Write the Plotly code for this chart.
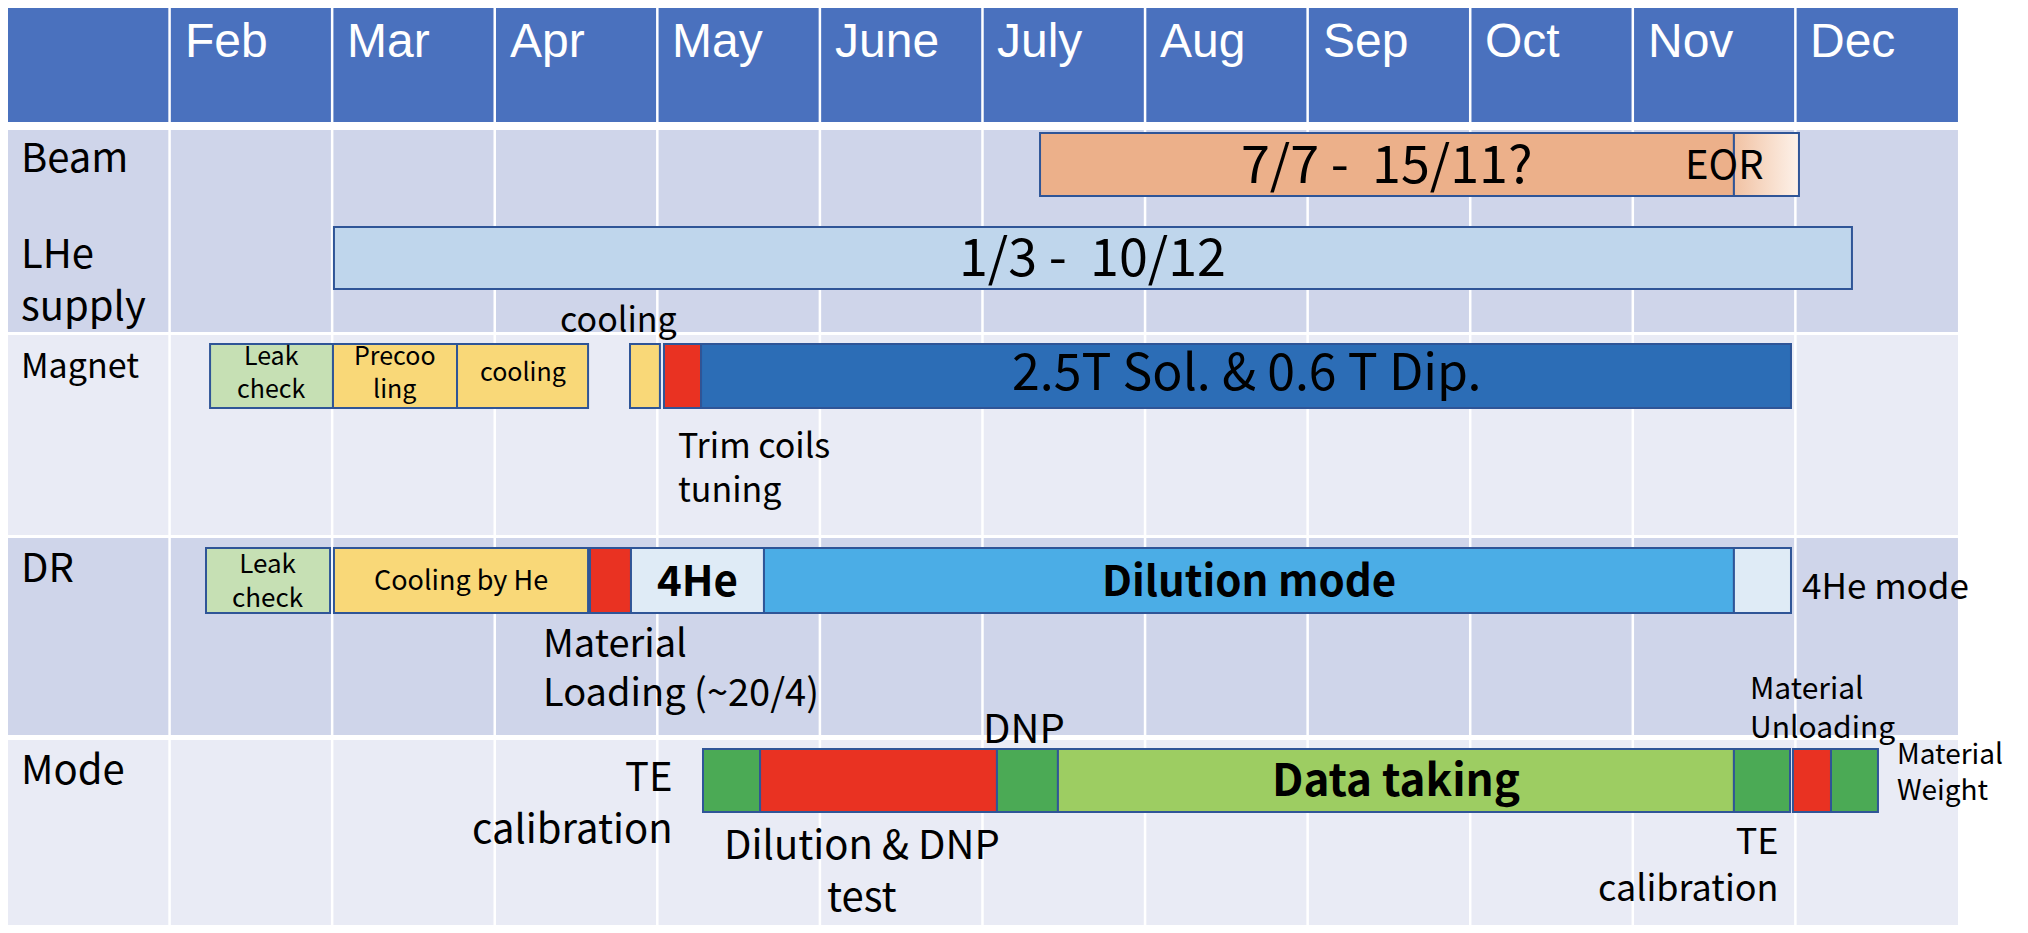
import plotly.graph_objects as go

# ---------------- data ----------------
months = ["Feb", "Mar", "Apr", "May", "June", "July", "Aug", "Sep", "Oct", "Nov", "Dec"]
lanes = ["Beam", "LHe", "Magnet", "DR", "Mode"]
row_labels = ["Beam", "LHe<br>supply", "Magnet", "DR", "Mode"]
row_label_lane = ["Beam", "LHe", "Magnet", "DR", "Mode"]

# month index: Jan = 0 ... Dec = 11 (fractional = position inside the month)
task_lane = ["Beam", "Beam", "LHe",
             "Magnet", "Magnet", "Magnet", "Magnet", "Magnet", "Magnet",
             "DR", "DR", "DR", "DR", "DR", "DR",
             "Mode", "Mode", "Mode", "Mode", "Mode", "Mode", "Mode"]
task_start = [6.354, 10.622, 2.011,
              1.249, 2.005, 2.768, 3.832, 4.041, 4.269,
              1.224, 2.011, 3.586, 3.838, 4.656, 10.622,
              4.281, 4.632, 6.089, 6.464, 10.622, 10.985, 11.219]
task_end = [10.622, 11.022, 11.348,
            2.005, 2.768, 3.574, 4.016, 4.269, 10.973,
            1.987, 3.574, 3.838, 4.656, 10.622, 10.973,
            4.632, 6.089, 6.464, 10.622, 10.967, 11.219, 11.508]
task_label = ["7/7 -  15/11?", "", "1/3 -  10/12",
              "Leak<br>check", "Precoo<br>ling", "cooling", "", "", "2.5T Sol. & 0.6 T Dip.",
              "Leak<br>check", "Cooling by He", "", "4He", "Dilution mode", "",
              "", "", "", "Data taking", "", "", ""]
task_kind = ["beam", "eor", "lhe",
             "leak", "cool", "cool", "cool", "red", "magnet",
             "leak2", "cool2", "red", "he4", "dilution", "he4",
             "green", "red", "green", "data", "green", "red", "green"]

note_text = ["EOR", "cooling", "Trim coils<br>tuning", "Material<br>Loading (~20/4)",
             "4He mode", "TE<br>calibration", "Dilution &amp; DNP<br>test", "DNP",
             "TE<br>calibration", "Material<br>Unloading", "Material<br>Weight"]

# ---------------- layout / style ----------------
W, H = 2028, 933
OFF = 8                      # default page body margin
FW, FH = W - 2 * OFF, H - 2 * OFF
PX_LEFT, MONTH_PX = 7, 162.58
x_range = [(OFF - PX_LEFT) / MONTH_PX, (OFF + FW - PX_LEFT) / MONTH_PX]
y_range = [OFF + FH, OFF]

lane_center = {"Beam": 164.5, "LHe": 258, "Magnet": 376, "DR": 580.5, "Mode": 780.5}
lane_height = {"Beam": 63, "LHe": 62, "Magnet": 64, "DR": 65, "Mode": 63}
lane_text_y = {"Beam": 164.5, "LHe": 258, "Magnet": 372, "DR": 580.5, "Mode": 780.5}

kind_color = {"beam": "#ECB08A", "lhe": "#BFD6EC", "leak": "#C6E0B4", "leak2": "#C6E0B4",
              "cool": "#F9D878", "cool2": "#F9D878", "red": "#E93222", "magnet": "#2C6DB6",
              "he4": "#DFEBF6", "dilution": "#4BADE6", "green": "#4BAA55", "data": "#9DCD62"}
kind_font = {"beam": (52, 400), "lhe": (52, 400), "leak": (25, 400), "leak2": (26, 400),
             "cool": (25, 400), "cool2": (27, 400), "magnet": (50, 400),
             "he4": (42, 700), "dilution": (42, 600), "data": (44, 600)}
BORDER = "#2F5597"
TXT_FONT = "Noto Sans CJK JP"
HDR_FONT = "Liberation Sans Narrow, Liberation Sans, Arial"

bands = [(7, 122, "#4A71BE"), (130, 332, "#CFD5EA"), (335, 535, "#E9EBF5"),
         (538, 735, "#CFD5EA"), (740, 931, "#E9EBF5")]
row_label_y = {"Beam": 158, "LHe": 280, "Magnet": 366, "DR": 568, "Mode": 770}
row_label_size = {"Beam": 40, "LHe": 40, "Magnet": 34, "DR": 40, "Mode": 40}
ROW_LABEL_X = 0.074

note_pos = [  # x (month units), y (px units), xanchor, size
    (10.567, 165, "center", 40),
    (3.764, 320, "center", 34),
    (4.115, 468, "left", 34),
    (3.285, 668, "left", 38),
    (11.028, 586, "left", 35),
    (4.109, 803, "right", 40),
    (5.259, 871, "center", 40),
    (6.255, 729, "center", 40),
    (10.911, 864, "right", 36),
    (10.708, 708, "left", 30),
    (11.613, 772, "left", 28),
]

fig = go.Figure()

shapes = []
n_cols = len(months) + 1
for y0, y1, col in bands:
    shapes.append(dict(type="rect", xref="x", yref="y", x0=0, x1=n_cols, y0=y0, y1=y1,
                       fillcolor=col, line=dict(width=0), layer="below"))
for i in range(1, n_cols):
    shapes.append(dict(type="line", xref="x", yref="y", x0=i, x1=i, y0=7, y1=931,
                       line=dict(color="white", width=2.5), layer="below"))

idx = [i for i, k in enumerate(task_kind) if k != "eor"]
fig.add_trace(go.Bar(
    orientation="h",
    y=[lane_center[task_lane[i]] for i in idx],
    x=[task_end[i] - task_start[i] for i in idx],
    base=[task_start[i] for i in idx],
    width=[lane_height[task_lane[i]] for i in idx],
    marker=dict(color=[kind_color[task_kind[i]] for i in idx], line=dict(color=BORDER, width=2)),
    hoverinfo="skip", showlegend=False,
))

for i, k in enumerate(task_kind):
    if k == "eor":
        yc, hh = lane_center[task_lane[i]], lane_height[task_lane[i]] / 2
        fig.add_trace(go.Scatter(
            x=[task_start[i], task_end[i], task_end[i], task_start[i], task_start[i]],
            y=[yc - hh, yc - hh, yc + hh, yc + hh, yc - hh],
            mode="lines", fill="toself",
            fillgradient=dict(type="horizontal",
                              colorscale=[[0, "#F1C2A3"], [1, "#FDF2EA"]]),
            line=dict(color=BORDER, width=2), hoverinfo="skip", showlegend=False,
        ))

annotations = []


def add_text(x, y, text, size, xanchor="center", family=TXT_FONT, color="black",
             weight=400, xshift=0, lift=0.08):
    annotations.append(dict(x=x, y=y, xref="x", yref="y", text=text, showarrow=False,
                            xanchor=xanchor, yanchor="middle", align=xanchor,
                            xshift=xshift, yshift=lift * size,
                            font=dict(family=family, size=size, color=color, weight=weight)))


for i, m in enumerate(months):
    add_text(i + 1, 44, m, 48, xanchor="left", family=HDR_FONT, color="white", xshift=13)

for lab, ln in zip(row_labels, row_label_lane):
    add_text(ROW_LABEL_X, row_label_y[ln], lab, row_label_size[ln], xanchor="left")

for i, lab in enumerate(task_label):
    if lab:
        sz, wt = kind_font[task_kind[i]]
        add_text((task_start[i] + task_end[i]) / 2, lane_text_y[task_lane[i]], lab, sz, weight=wt)

for t, (x, y, xa, sz) in zip(note_text, note_pos):
    add_text(x, y, t, sz, xanchor=xa)

fig.update_layout(
    width=FW, height=FH, margin=dict(l=0, r=0, t=0, b=0),
    paper_bgcolor="white", plot_bgcolor="white",
    barmode="overlay",
    xaxis=dict(range=x_range, visible=False, fixedrange=True),
    yaxis=dict(range=y_range, visible=False, fixedrange=True),
    shapes=shapes, annotations=annotations, showlegend=False,
)

fig.write_html("out.html")
